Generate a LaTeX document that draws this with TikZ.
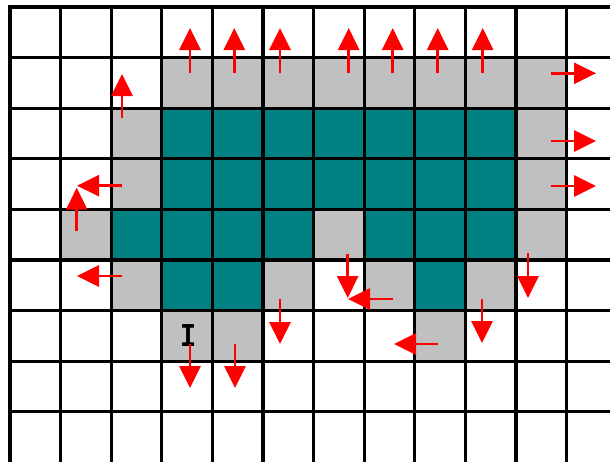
\documentclass[tikz,border=0pt]{standalone}
\usepackage{fontspec}
\newfontfamily\monob{Liberation Mono}
\usetikzlibrary{arrows.meta}
\definecolor{tealc}{RGB}{0,128,128}
\definecolor{grayc}{RGB}{192,192,192}
\begin{document}
\begin{tikzpicture}[x=0.75pt,y=-0.75pt,
  gridline/.style={line width=2.5pt,black,line cap=rect},
  flow/.style={red,line width=2.1pt,-{Triangle[width=15.75pt,length=16.5pt]}},
  tealcell/.style={fill=tealc},
  graycell/.style={fill=grayc}]
\useasboundingbox (0,0) rectangle (610,461);
\fill[white] (0,0) rectangle (610,461);
\def\cs{50.6}
% teal cells
\foreach \c/\r in {3/2,4/2,5/2,6/2,7/2,8/2,9/2,
                   3/3,4/3,5/3,6/3,7/3,8/3,9/3,
                   2/4,3/4,4/4,5/4,7/4,8/4,9/4,
                   3/5,4/5,8/5}
  \path[tealcell] ({10+\cs*\c},{7+\cs*\r}) rectangle ++(\cs,\cs);
% gray cells
\foreach \c/\r in {3/1,4/1,5/1,6/1,7/1,8/1,9/1,10/1,
                   2/2,10/2,2/3,10/3,
                   1/4,6/4,10/4,
                   2/5,5/5,7/5,9/5,
                   3/6,4/6,8/6}
  \path[graycell] ({10+\cs*\c},{7+\cs*\r}) rectangle ++(\cs,\cs);
% grid
\foreach \k in {0,...,11}
  \draw[gridline] ({10+\cs*\k},7) -- ({10+\cs*\k},470);
\foreach \k in {0,...,8}
  \draw[gridline] (10,{7+\cs*\k}) -- (620,{7+\cs*\k});
% cursor mark
\node[font=\monob\bfseries\fontsize{25}{25}\selectfont, inner sep=0pt] (cursor) at (188,336) {\scalebox{0.8}[1]{I}};
% up arrows
\foreach \x in {190,234.3,280,348.7,392.7,437.7,482.7}
  \draw[flow] (\x,72.7) -- (\x,28);
\draw[flow] (122,118) -- (122,74);
\draw[flow] (76.7,230.7) -- (76.7,187.7);
% left arrows
\draw[flow] (121.7,185.7) -- (77,185.7);
\draw[flow] (121.7,276) -- (77,276);
\draw[flow] (392.7,299) -- (348,299);
\draw[flow] (437.7,344) -- (394,344);
% right arrows
\foreach \y in {73.3,141,186}
  \draw[flow] (551,\y) -- (596,\y);
% down arrows
\draw[flow] (190,344) -- (190,388);
\draw[flow] (235,344) -- (235,388);
\draw[flow] (280,299) -- (280,344);
\draw[flow] (347.7,254) -- (347.7,298);
\draw[flow] (528,253) -- (528,298);
\draw[flow] (482,299) -- (482,343);
\end{tikzpicture}
\end{document}
